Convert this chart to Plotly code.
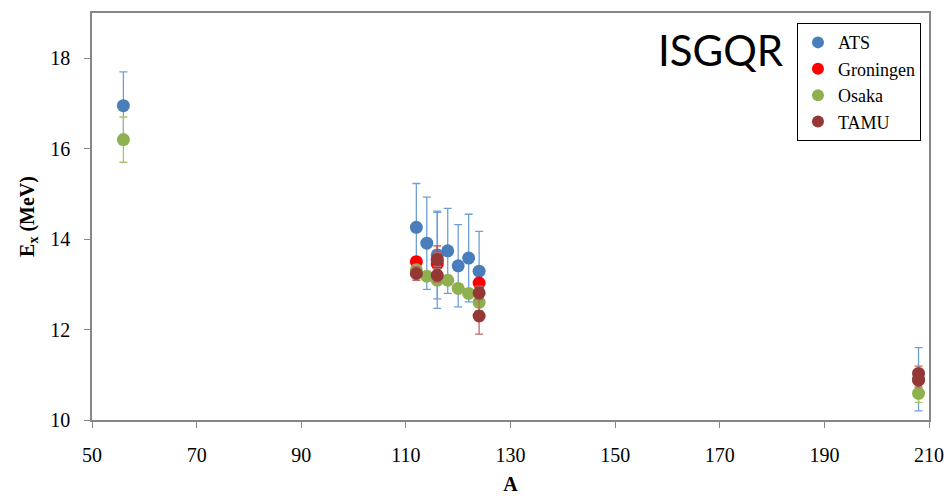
import plotly.graph_objects as go

# ---- data ----
ats_A = [56, 112, 114, 116, 116, 118, 120, 122, 124, 208]
ats_E = [16.95, 14.26, 13.91, 13.65, 13.53, 13.74, 13.41, 13.58, 13.29, 10.90]
ats_err = [0.75, 0.97, 1.02, 0.97, 1.06, 0.94, 0.91, 0.97, 0.88, 0.70]

gron_A = [112, 116, 124]
gron_E = [13.50, 13.45, 13.03]
gron_err = [0.10, 0.40, 0.10]

osaka_A = [56, 112, 114, 116, 118, 120, 122, 124, 208]
osaka_E = [16.20, 13.32, 13.18, 13.09, 13.09, 12.91, 12.80, 12.60, 10.59]
osaka_err = [0.50, 0.10, 0.10, 0.10, 0.10, 0.10, 0.10, 0.10, 0.20]

tamu_A = [112, 116, 116, 124, 124, 208, 208]
tamu_E = [13.24, 13.55, 13.20, 12.81, 12.30, 11.03, 10.88]
tamu_err = [0.15, 0.15, 0.15, 0.15, 0.40, 0.16, 0.15]

x_ticks = [50, 70, 90, 110, 130, 150, 170, 190, 210]
y_ticks = [10, 12, 14, 16, 18]

series = [
    ("ATS", ats_A, ats_E, ats_err, "#4a7ebb", "#6f9fd8"),
    ("Groningen", gron_A, gron_E, gron_err, "#ff0000", "#ff3030"),
    ("Osaka", osaka_A, osaka_E, osaka_err, "#8fb04f", "#a9c46e"),
    ("TAMU", tamu_A, tamu_E, tamu_err, "#953735", "#b86a68"),
]

fig = go.Figure()
for name, xs, ys, es, col, ecol in series:
    fig.add_trace(go.Scatter(
        x=xs, y=ys, mode="markers", name=name,
        marker=dict(size=13, color=col, line=dict(width=0)),
        error_y=dict(type="data", array=es, visible=True, color=ecol,
                     thickness=1.3, width=4),
    ))

serif = "Liberation Serif"
fig.update_layout(
    width=949, height=497,
    margin=dict(l=92, r=20, t=13, b=77),
    paper_bgcolor="white", plot_bgcolor="white",
    font=dict(family=serif, size=20, color="black"),
    showlegend=True,
    legend=dict(
        x=0.9904, y=0.975, xanchor="right", yanchor="top",
        bordercolor="black", borderwidth=1, bgcolor="white",
        font=dict(family=serif, size=18, color="black"),
        itemsizing="constant", tracegroupgap=0,
        itemwidth=30,
    ),
    annotations=[dict(
        text="ISGQR", xref="paper", yref="paper", x=0.752, y=0.909,
        xanchor="center", yanchor="middle", showarrow=False,
        font=dict(family="Lato", size=42, color="black"),
    )],
)
fig.update_xaxes(
    range=[50, 210], tickvals=x_ticks, ticktext=[str(v) for v in x_ticks],
    showline=True, mirror=True, linecolor="#868686", linewidth=1.5,
    ticks="outside", ticklen=6, tickcolor="#868686", showgrid=False, zeroline=False,
    ticklabelstandoff=10, automargin=False,
    title=dict(text="<b>A</b>", font=dict(family=serif, size=20), standoff=12),
)
fig.update_yaxes(
    range=[10, 19], tickvals=y_ticks, ticktext=[str(v) for v in y_ticks],
    showline=True, mirror=True, linecolor="#868686", linewidth=1.5,
    ticks="outside", ticklen=6, tickcolor="#868686", showgrid=False, zeroline=False,
    ticklabelstandoff=10, automargin=False,
    title=dict(text="<b>E<sub>x</sub> (MeV)</b>", font=dict(family=serif, size=20), standoff=10),
)
fig.write_html("out.html")
